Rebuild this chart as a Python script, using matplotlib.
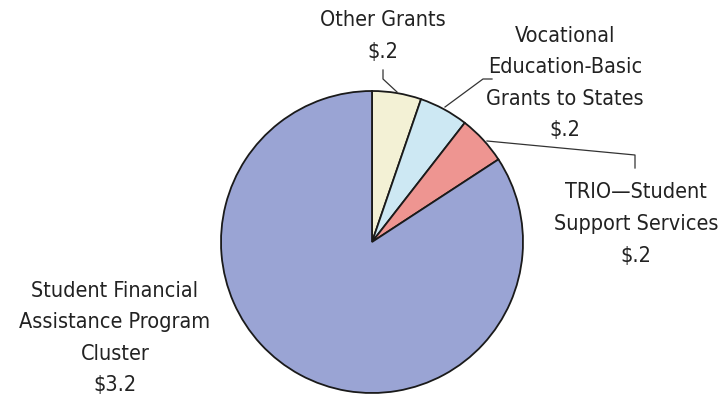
import matplotlib.pyplot as plt

plt.rcParams["font.family"] = ["DejaVu Sans"]

# Grants in billions of dollars
labels = ["Other Grants", "Vocational\nEducation-Basic\nGrants to States",
          "TRIO\u2014Student\nSupport Services",
          "Student Financial\nAssistance Program\nCluster"]
amounts = [0.2, 0.2, 0.2, 3.2]
amount_text = ["$.2", "$.2", "$.2", "$3.2"]
colors = ["#f3f1d5", "#cde8f3", "#ee9591", "#9aa4d4"]

W, H = 723, 395
fig = plt.figure(figsize=(W / 100, H / 100), dpi=100)
ax = fig.add_axes([0, 0, 1, 1])

cx, cy, r = 372, H - 242, 151
ax.pie(amounts, colors=colors, startangle=90, counterclock=False,
       center=(cx, cy), radius=r, frame=True,
       wedgeprops=dict(edgecolor="#1a1a1a", linewidth=1.3))
ax.set_xlim(0, W)
ax.set_ylim(0, H)
ax.axis("off")

txt = dict(ha="center", va="center", fontsize=15.5, fontstretch="condensed",
           color="#222222", linespacing=1.72)


def y(v):
    return H - v


# label blocks: (text, x, centre y in pixels)
blocks = [
    (labels[0] + "\n" + amount_text[0], 383, 36),
    (labels[1] + "\n" + amount_text[1], 565, 83),
    (labels[2] + "\n" + amount_text[2], 636, 224),
    (labels[3] + "\n" + amount_text[3], 115, 338),
]
for s, x, yc in blocks:
    ax.text(x, y(yc), s, **txt)

# leader lines
line = dict(color="#333333", linewidth=0.9)
ax.plot([383, 383, 397], [y(70), y(79), y(92)], **line)
ax.plot([492, 483, 445], [y(79), y(79), y(107)], **line)
ax.plot([487, 635, 635], [y(141), y(155), y(168)], **line)

fig.savefig("out.png", dpi=100)
